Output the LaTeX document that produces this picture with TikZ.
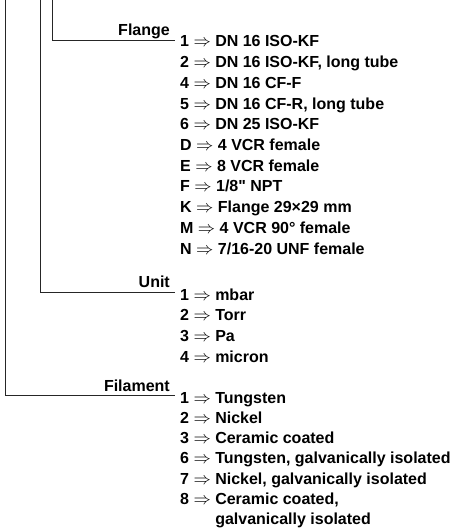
\documentclass[tikz,border=0pt]{standalone}
\usepackage{fontspec}
\setmainfont{Liberation Sans}[Ligatures=TeXOff]
\usetikzlibrary{positioning}
\tikzset{
  entry/.style={anchor=base west,inner sep=0pt,font=\fontsize{16}{20}\selectfont\bfseries},
  grouptitle/.style={anchor=base east,inner sep=0pt,font=\fontsize{16}{20}\selectfont\bfseries},
  branch/.style={draw=black!85,line width=1pt},
}

\begin{document}
\begin{tikzpicture}[x=1pt,y=-1pt]
  \useasboundingbox (0,0) rectangle (453,529);

  \coordinate (fla top) at (52,0);
  \coordinate (unit top) at (40,0);
  \coordinate (fil top) at (5,0);
  \coordinate (fla end) at (175,41);
  \coordinate (unit end) at (175,292);
  \coordinate (fil end) at (175,395);

  \node[grouptitle] (flange) at (170,36) {Flange};
  \node[grouptitle] (unit) at (170,287) {Unit};
  \node[grouptitle] (filament) at (170,391) {Filament};

  \foreach \txt [count=\i] in {1 $\Rightarrow$ DN 16 ISO-KF,{2 $\Rightarrow$ DN 16 ISO-KF, long tube},
      4 $\Rightarrow$ DN 16 CF-F,{5 $\Rightarrow$ DN 16 CF-R, long tube},6 $\Rightarrow$ DN 25 ISO-KF,
      D $\Rightarrow$ 4 VCR female,E $\Rightarrow$ 8 VCR female,F $\Rightarrow$ 1/8" NPT,
      K $\Rightarrow$ Flange 29×29 mm,M $\Rightarrow$ 4 VCR 90° female,N $\Rightarrow$ 7/16-20 UNF female}
    \node[entry] (fla-\i) at (180,{47+(\i-1)*20.7}) {\txt};

  \foreach \txt [count=\i] in {1 $\Rightarrow$ mbar,2 $\Rightarrow$ Torr,3 $\Rightarrow$ Pa,4 $\Rightarrow$ micron}
    \node[entry] (unit-\i) at (180,{300+(\i-1)*20.7}) {\txt};

  \foreach \txt [count=\i] in {1 $\Rightarrow$ Tungsten,2 $\Rightarrow$ Nickel,3 $\Rightarrow$ Ceramic coated,
      {6 $\Rightarrow$ Tungsten, galvanically isolated},{7 $\Rightarrow$ Nickel, galvanically isolated},
      {8 $\Rightarrow$ Ceramic coated,},\phantom{8 $\Rightarrow$ }galvanically isolated}
    \node[entry] (fil-\i) at (180,{403+(\i-1)*20.3}) {\txt};

  \draw[branch] (fla top) |- (fla end);
  \draw[branch] (unit top) |- (unit end);
  \draw[branch] (fil top) |- (fil end);
\end{tikzpicture}
\end{document}
